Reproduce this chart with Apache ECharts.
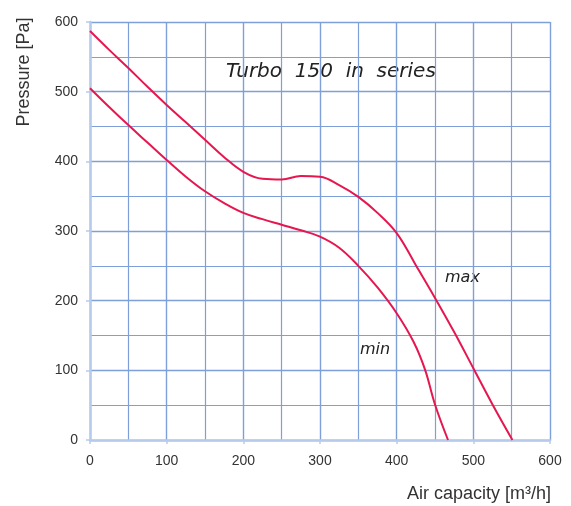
<!DOCTYPE html>
<html><head><meta charset="utf-8">
<script src="https://cdn.jsdelivr.net/npm/echarts@6/dist/echarts.min.js"></script>
<style>html,body{margin:0;padding:0;background:#fff}#c{width:571px;height:506px}</style>
</head><body><div id="c"></div>
<script>
const xTicks = [0, 100, 200, 300, 400, 500, 600];
const yTicks = [0, 100, 200, 300, 400, 500, 600];
const maxCurve = [[0,587],[25,560],[50,534],[75,507],[100,481],[125,456],[150,431],[175,406],[200,385],[225,375],[250,374],[275,379],[300,378],[325,366],[350,349],[375,326],[400,297],[425,251],[450,204],[475,155],[500,103],[525,51],[551,0]];
const minCurve = [[0,505],[25,478],[50,452],[75,427],[100,402],[125,378],[150,357],[175,340],[200,326],[225,317],[250,309],[275,301],[300,292],[325,276],[350,250],[375,219],[400,182],[422,141],[437,101],[450,51],[467,0]];
const title = 'Turbo  150  in  series';
const labelMax = 'max';
const labelMin = 'min';
const xName = 'Air capacity [m³/h]';
const yName = 'Pressure [Pa]';

const gridColor = '#7f9fd8';
const font = 'Liberation Sans, Arial, sans-serif';
const chart = echarts.init(document.getElementById('c'));
const axisCommon = {
  type: 'value', min: 0, max: 600, interval: 100,
  axisLine: {show: true, lineStyle: {color: '#b6cbec', width: 2.5}},
  axisTick: {show: true, length: 4, lineStyle: {color: '#b6cbec', width: 1.5}},
  splitLine: {show: true, lineStyle: {color: gridColor, width: 1.4}},
  minorTick: {show: false, splitNumber: 2},
  minorSplitLine: {show: true, lineStyle: {color: gridColor, width: 1.2}},
  axisLabel: {color: '#333', fontSize: 14, fontFamily: font}
};
chart.setOption({
  animation: false,
  grid: {left: 90, right: 21, top: 22, bottom: 66},
  xAxis: Object.assign({}, axisCommon, {
    axisLabel: Object.assign({}, axisCommon.axisLabel, {margin: 14, formatter: v => xTicks.includes(v) ? String(v) : ''})
  }),
  yAxis: Object.assign({}, axisCommon, {
    axisLabel: Object.assign({}, axisCommon.axisLabel, {margin: 12, formatter: v => yTicks.includes(v) ? String(v) : ''})
  }),
  graphic: [
    {type: 'text', left: 226, top: 62, style: {text: title, fontSize: 20, fontStyle: 'italic', fontFamily: 'DejaVu Sans', fill: '#222'}},
    {type: 'text', left: 445, top: 270, style: {text: labelMax, fontSize: 16, fontStyle: 'italic', fontFamily: 'DejaVu Sans', fill: '#222'}},
    {type: 'text', left: 360, top: 342, style: {text: labelMin, fontSize: 16, fontStyle: 'italic', fontFamily: 'DejaVu Sans', fill: '#222'}},
    {type: 'text', x: 551, y: 494, style: {text: xName, fontSize: 18, fontFamily: font, fill: '#333', align: 'right', verticalAlign: 'middle'}},
    {type: 'text', x: 24, y: 72, rotation: Math.PI / 2, style: {text: yName, fontSize: 18, fontFamily: font, fill: '#333', align: 'center', verticalAlign: 'middle'}}
  ],
  series: [
    {type: 'line', data: maxCurve, smooth: 0.4, showSymbol: false, lineStyle: {color: '#e6174f', width: 2}},
    {type: 'line', data: minCurve, smooth: 0.4, showSymbol: false, lineStyle: {color: '#e6174f', width: 2}}
  ]
});
</script></body></html>
